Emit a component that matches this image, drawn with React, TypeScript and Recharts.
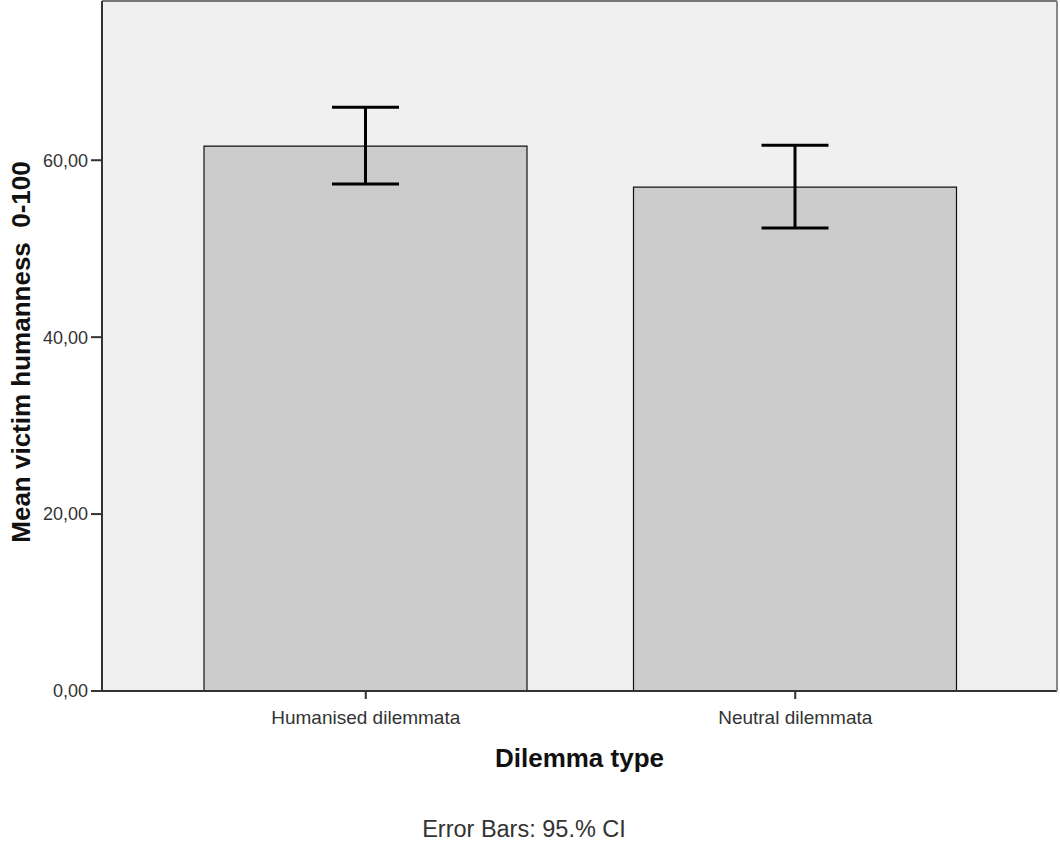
import React from "react";
import {
  ComposedChart,
  Bar,
  ErrorBar,
  XAxis,
  YAxis,
  CartesianGrid,
  Label,
} from "recharts";

const categories = ["Humanised dilemmata", "Neutral dilemmata"];
const means = [61.6, 56.95];
const ciLow = [57.3, 52.35];
const ciHigh = [66.0, 61.7];
const yTicks = [0, 20, 40, 60];

const data = categories.map((name, i) => ({
  name,
  mean: means[i],
  ci: [means[i] - ciLow[i], ciHigh[i] - means[i]],
}));

const FONT = "'Liberation Sans', Arial, sans-serif";

const fmt = (v: number) => v.toFixed(2).replace(".", ",");

// y axis title, rotated
function YTitle(props: { viewBox?: { x: number; y: number; width: number; height: number } }) {
  const vb = props.viewBox;
  if (!vb) return null;
  const cx = 21;
  const cy = vb.y + vb.height / 2 + 6;
  return (
    <text
      x={cx}
      y={cy}
      transform={`rotate(-90, ${cx}, ${cy})`}
      textAnchor="middle"
      dominantBaseline="central"
      fontFamily={FONT}
      fontWeight="bold"
      fontSize={26}
      fill="#111"
      style={{ whiteSpace: "pre" }}
    >
      Mean victim humanness  0-100
    </text>
  );
}

// x axis title plus the error bar note below it
function XTitle(props: { viewBox?: { x: number; y: number; width: number; height: number } }) {
  const vb = props.viewBox;
  if (!vb) return null;
  const cx = vb.x + vb.width / 2;
  return (
    <g>
      <text
        x={cx}
        y={767}
        textAnchor="middle"
        fontFamily={FONT}
        fontWeight="bold"
        fontSize={26}
        fill="#111"
      >
        Dilemma type
      </text>
      <text
        x={524}
        y={837}
        textAnchor="middle"
        fontFamily={FONT}
        fontSize={23.5}
        fill="#333"
      >
        Error Bars: 95.% CI
      </text>
    </g>
  );
}

export default function App() {
  return (
    <div style={{ position: "absolute", left: 0, top: 0, fontFamily: FONT }}>
      <ComposedChart
        width={1060}
        height={842}
        data={data}
        margin={{ top: 0, right: 0, bottom: 0, left: 0 }}
      >
        <CartesianGrid fill="#f0f0f0" horizontal={false} vertical={false} />
        <XAxis
          dataKey="name"
          height={151}
          padding={{ left: 49, right: 47 }}
          axisLine={{ stroke: "#333", strokeWidth: 2 }}
          tickLine={{ stroke: "#333", strokeWidth: 2 }}
          tickSize={8}
          tickMargin={12}
          tick={{ fill: "#333", fontSize: 19, fontFamily: FONT }}
        >
          <Label content={<XTitle />} />
        </XAxis>
        <XAxis
          xAxisId="top"
          dataKey="name"
          orientation="top"
          height={1}
          tick={false}
          tickLine={false}
          axisLine={{ stroke: "#777", strokeWidth: 2 }}
        />
        <YAxis
          width={102}
          domain={[0, 78]}
          ticks={yTicks}
          tickFormatter={fmt}
          axisLine={{ stroke: "#333", strokeWidth: 2 }}
          tickLine={{ stroke: "#333", strokeWidth: 2 }}
          tickSize={11}
          tickMargin={3}
          tick={{ fill: "#333", fontSize: 18, fontFamily: FONT }}
        >
          <Label content={<YTitle />} />
        </YAxis>
        <YAxis
          yAxisId="right"
          orientation="right"
          width={3}
          domain={[0, 78]}
          tick={false}
          tickLine={false}
          axisLine={{ stroke: "#888", strokeWidth: 2 }}
        />
        <Bar
          dataKey="mean"
          barSize={323}
          fill="#cccccc"
          stroke="#111"
          strokeWidth={1.2}
          isAnimationActive={false}
        >
          <ErrorBar
            dataKey="ci"
            width={33.5}
            stroke="#000"
            strokeWidth={3}
            isAnimationActive={false}
          />
        </Bar>
      </ComposedChart>
    </div>
  );
}
